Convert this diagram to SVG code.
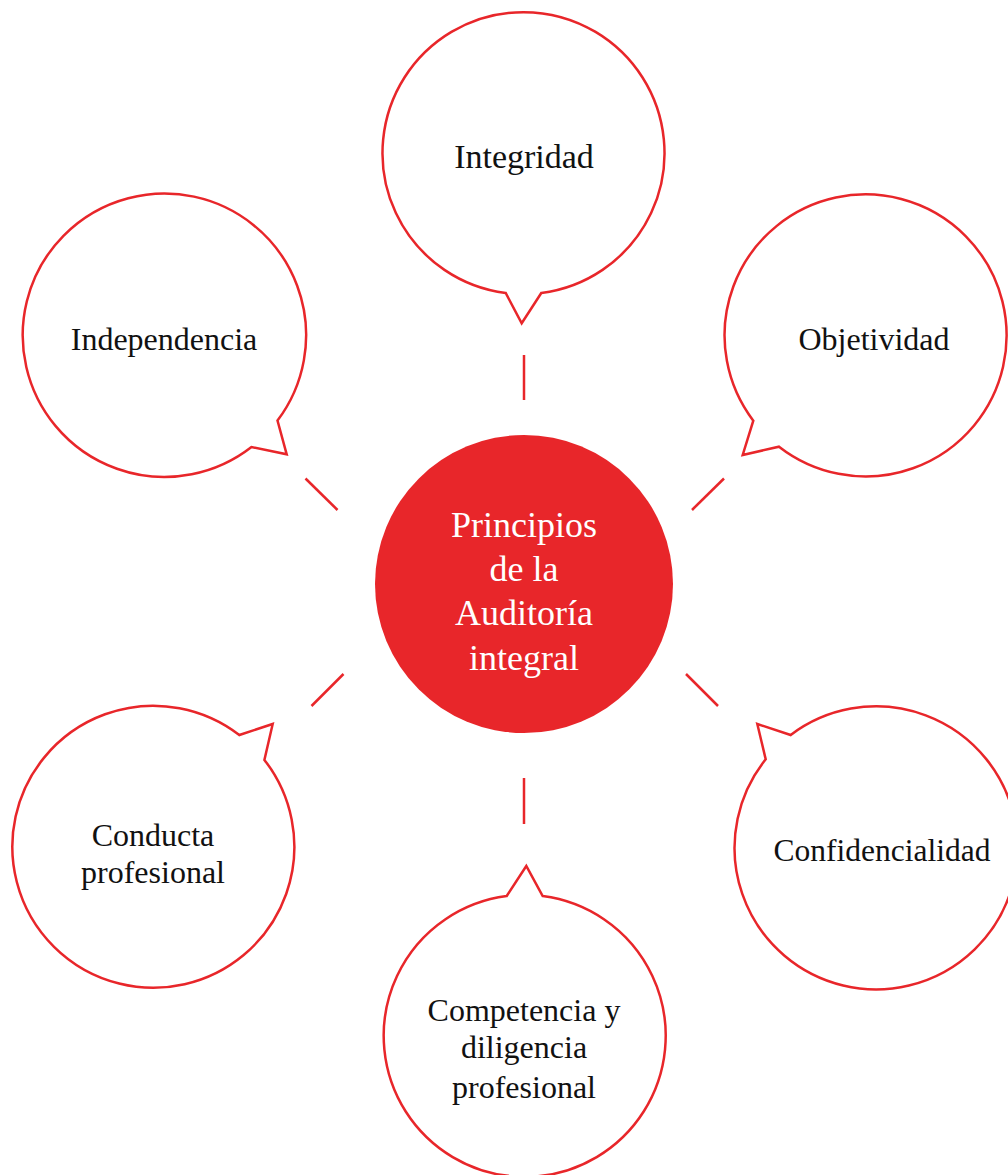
<svg xmlns="http://www.w3.org/2000/svg" width="1008" height="1175" viewBox="0 0 1008 1175">
<style>
.bubble{fill:#ffffff;stroke:#E8262A;stroke-width:2.5;stroke-linejoin:miter}
.conn line{stroke:#E8262A;stroke-width:2.5}
.lbl{font-family:"Liberation Serif","Times New Roman",serif;font-size:32px;fill:#111111;text-anchor:middle}
.ctr{font-family:"Liberation Serif","Times New Roman",serif;font-size:36px;fill:#ffffff;text-anchor:middle}
</style>
<rect width="1008" height="1175" fill="#ffffff"/>
<g id="connectors" class="conn">
<line x1="524" y1="355" x2="524" y2="400"/>
<line x1="305.5" y1="478.5" x2="337.5" y2="510"/>
<line x1="724" y1="478.5" x2="692" y2="510"/>
<line x1="311.5" y1="706" x2="343.5" y2="674"/>
<line x1="686" y1="674" x2="718" y2="706"/>
<line x1="524" y1="778" x2="524" y2="824"/>
</g>
<g id="center">
<circle cx="524" cy="584" r="149" fill="#E8262A"/>
<text class="ctr" x="524" y="537">Principios</text>
<text class="ctr" x="524" y="581">de la</text>
<text class="ctr" x="524" y="625">Auditoría</text>
<text class="ctr" x="524" y="670">integral</text>
</g>
<g id="integridad">
<path class="bubble" d="M541.3,293 A141,141 0 1 0 505.7,293 L521.7,323.3 Z"/>
<text class="lbl" x="524" y="168" style="font-size:34px">Integridad</text>
</g>
<g id="independencia">
<path class="bubble" d="M277.5,420.6 A141.7,141.7 0 1 0 251.5,447 L286.7,454.3 Z"/>
<text class="lbl" x="164" y="350">Independencia</text>
</g>
<g id="objetividad">
<path class="bubble" d="M779,446.7 A141,141 0 1 0 753.3,420.7 L742.7,455 Z"/>
<text class="lbl" x="874" y="350">Objetividad</text>
</g>
<g id="conducta">
<path class="bubble" d="M264.4,759.9 A141,141 0 1 1 239.3,735 L272.7,724 Z"/>
<text class="lbl" x="153" y="846">Conducta</text>
<text class="lbl" x="153" y="883">profesional</text>
</g>
<g id="confidencialidad">
<path class="bubble" d="M790.7,735 A141.5,141.5 0 1 1 765.7,759.3 L757.3,724 Z"/>
<text class="lbl" x="882" y="861" style="font-size:31.5px">Confidencialidad</text>
</g>
<g id="competencia">
<path class="bubble" d="M542.7,896 A141,141 0 1 1 506.7,896 L526.3,866 Z"/>
<text class="lbl" x="524" y="1021">Competencia y</text>
<text class="lbl" x="524" y="1058">diligencia</text>
<text class="lbl" x="524" y="1098">profesional</text>
</g>
</svg>
